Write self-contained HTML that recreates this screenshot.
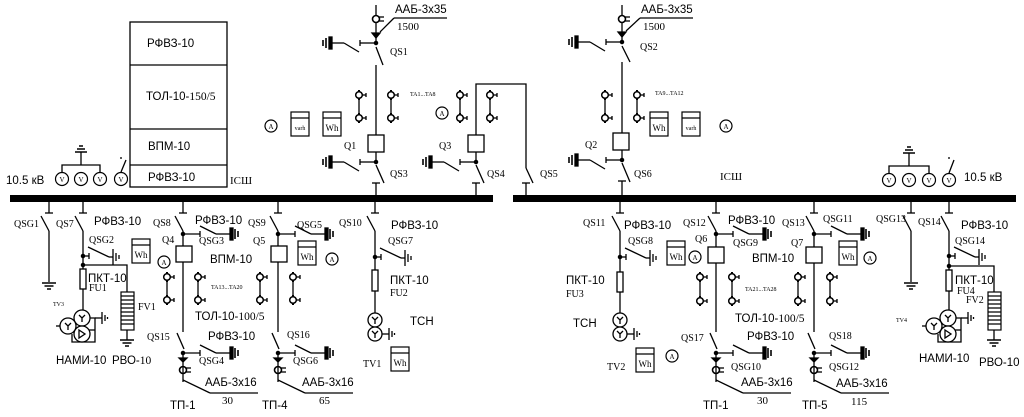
<!DOCTYPE html>
<html><head><meta charset="utf-8"><style>
html,body{margin:0;padding:0;background:#fff;}
svg{display:block;}
.s{font-family:"Liberation Sans",sans-serif;font-size:11.5px;}
.r{font-family:"Liberation Serif",serif;font-size:10px;}
.n{font-family:"Liberation Serif",serif;font-size:11px;}
.t{font-family:"Liberation Serif",serif;font-size:6px;}
</style></head><body>
<svg width="1024" height="417" viewBox="0 0 1024 417" xmlns="http://www.w3.org/2000/svg">
<defs>
<g id="fd" stroke="#000" stroke-width="1.3" fill="none">
<line x1="0" y1="202" x2="0" y2="213"/><line x1="-4" y1="213" x2="4" y2="213"/><line x1="-8" y1="216" x2="0" y2="231"/>
</g>
<g id="esA" stroke="#000" stroke-width="1.3" fill="none">
<circle r="1.6" fill="#000"/><line x1="0" y1="0" x2="17" y2="0"/><line x1="17" y1="-3" x2="17" y2="3"/>
<line x1="17" y1="-8" x2="33" y2="0"/><line x1="33" y1="0" x2="47" y2="0"/>
<rect x="47" y="-6" width="3" height="12" fill="#000"/><line x1="52" y1="-5" x2="52" y2="5" stroke-width="1.6"/><line x1="55" y1="-3" x2="55" y2="3" stroke-width="1.6"/>
</g>
<g id="esL" stroke="#000" stroke-width="1.3" fill="none">
<circle r="1.6" fill="#000"/><line x1="0" y1="0" x2="-16" y2="0"/><line x1="-16" y1="-3" x2="-16" y2="3"/>
<line x1="-17" y1="9" x2="-32" y2="0"/><line x1="-32" y1="0" x2="-44" y2="0"/>
<rect x="-47" y="-6" width="3" height="12" fill="#000"/><line x1="-50" y1="-5" x2="-50" y2="5" stroke-width="1.6"/><line x1="-53" y1="-3" x2="-53" y2="3" stroke-width="1.6"/>
</g>
<g id="esB" stroke="#000" stroke-width="1.3" fill="none">
<circle r="1.6" fill="#000"/><line x1="0" y1="0" x2="6" y2="0"/><line x1="6" y1="-3" x2="6" y2="3"/>
<line x1="5" y1="-9" x2="26" y2="1"/><line x1="26" y1="1" x2="30" y2="1"/>
<line x1="30" y1="-7" x2="30" y2="9"/><line x1="33" y1="-3" x2="33" y2="5"/><line x1="36" y1="-1" x2="36" y2="3"/>
</g>
<g id="ct" stroke="#000" fill="none">
<line x1="0" y1="-5" x2="0" y2="5" stroke-width="2"/><circle r="3.3" stroke-width="1.5" fill="#fff"/><line x1="3" y1="0" x2="7" y2="0" stroke-width="1.3"/><line x1="7" y1="-2" x2="7" y2="2" stroke-width="1.3"/>
</g>
<g id="gv" stroke="#000" stroke-width="1.5"><line x1="-7" y1="0" x2="7" y2="0"/><line x1="-4.5" y1="3" x2="4.5" y2="3"/><line x1="-2" y1="6" x2="2" y2="6"/></g>
<g id="cb" stroke="#000" stroke-width="1.3" fill="none">
<path d="M-4,0 L4,0 L0,4 Z" fill="#000"/><line x1="0" y1="-5" x2="0" y2="24"/>
<circle cy="12" r="3.5" stroke-width="1.6"/><line x1="3" y1="10" x2="8" y2="10"/><line x1="3" y1="14" x2="8" y2="14"/>
<line x1="0" y1="22" x2="27" y2="35"/><line x1="27" y1="35" x2="75" y2="35"/>
</g>
<g id="tr" stroke="#000" stroke-width="1.3" fill="#fff">
<circle r="7"/><circle cy="14" r="7"/>
<path d="M-3,-3 L0,0 L3,-3 M0,0 L0,4 M-3,11 L0,14 L3,11 M0,14 L0,18" fill="none"/>
<line x1="7" y1="14" x2="14" y2="14"/><line x1="14" y1="8" x2="14" y2="20"/><line x1="17" y1="11" x2="17" y2="17"/><line x1="19.5" y1="13" x2="19.5" y2="15"/>
</g>
<g id="nami" stroke="#000" stroke-width="1.3" fill="none">
<path d="M0,0 L13,0 L13,24 L-10,24 L-10,16" /><line x1="0" y1="12" x2="13" y2="12"/>
<circle cx="0" cy="0" r="8" fill="#fff"/><circle cx="0" cy="16" r="8" fill="#fff"/><circle cx="-14" cy="8" r="8" fill="#fff"/>
<line x1="-26" y1="8" x2="-22" y2="8"/>
<path d="M-3,-3 L0,0 L3,-3 M0,0 L0,4 M-17,5 L-14,8 L-11,5 M-14,8 L-14,12 M-3,12 L3,16 L-3,20 Z"/>
<line x1="13" y1="0" x2="20" y2="0"/><line x1="20" y1="-6" x2="20" y2="6"/><line x1="23" y1="-3" x2="23" y2="3"/><line x1="25.5" y1="-1" x2="25.5" y2="1"/>
</g>
<g id="fv" stroke="#000" stroke-width="1.2" fill="#fff">
<rect x="0" y="0" width="13" height="38"/>
<path d="M0,4H13M0,8H13M0,12H13M0,16H13M0,20H13M0,24H13M0,28H13M0,32H13" fill="none"/>
</g>
<g id="vm" stroke="#000" stroke-width="1.2" fill="#fff"><circle r="6.5"/></g>
<g id="am" stroke="#000" stroke-width="1.2" fill="#fff"><circle r="6"/></g>
<g id="box" stroke="#000" stroke-width="1.2" fill="#fff"><rect width="18" height="24"/><line x1="0" y1="6" x2="18" y2="6"/></g>
</defs>

<g stroke="#000" stroke-width="1.3" fill="none">
<rect x="10" y="195" width="483" height="7" fill="#000" stroke="none"/>
<rect x="513" y="195" width="503" height="7" fill="#000" stroke="none"/>
<rect x="130" y="22" width="97" height="165"/>
<line x1="130" y1="65" x2="227" y2="65"/><line x1="130" y1="129" x2="227" y2="129"/><line x1="130" y1="165" x2="227" y2="165"/>
<path d="M62,179 V165 H100 V179 M81,165 V152"/>
<line x1="75" y1="152" x2="87" y2="152" stroke-width="1.5"/><line x1="77" y1="149" x2="85" y2="149" stroke-width="1.5"/><line x1="79" y1="146" x2="83" y2="146" stroke-width="1.5"/>
<line x1="121" y1="172" x2="126" y2="160"/><line x1="121" y1="157" x2="121" y2="159"/>
<path d="M889,180 V166 H929 V180 M909,166 V153"/>
<line x1="903" y1="153" x2="915" y2="153" stroke-width="1.5"/><line x1="905" y1="150" x2="913" y2="150" stroke-width="1.5"/><line x1="907" y1="147" x2="911" y2="147" stroke-width="1.5"/>
<line x1="949" y1="173" x2="954" y2="160"/><line x1="949" y1="157" x2="949" y2="159"/>

<line x1="376" y1="5" x2="376" y2="43"/>
<circle cx="376" cy="19" r="3.5" stroke-width="1.6" fill="#fff"/><line x1="379" y1="17" x2="384" y2="17"/><line x1="379" y1="21" x2="384" y2="21"/>
<path d="M376,38 L380,33 L372,33 Z" fill="#000"/>
<line x1="380" y1="32" x2="394" y2="18"/><line x1="394" y1="18" x2="447" y2="18"/>
<line x1="376" y1="47" x2="383" y2="65"/><line x1="376" y1="65" x2="376" y2="135"/>
<rect x="368" y="135" width="16" height="17"/><line x1="376" y1="152" x2="376" y2="162"/>
<line x1="376" y1="165" x2="384" y2="183"/><line x1="376" y1="183" x2="376" y2="195"/><line x1="372" y1="183" x2="380" y2="183"/>
<line x1="359" y1="90" x2="359" y2="122"/><line x1="391" y1="90" x2="391" y2="122"/>
<path d="M476,135 V84 H526 V168"/>
<rect x="468" y="135" width="16" height="17"/><line x1="476" y1="152" x2="476" y2="162"/>
<line x1="476" y1="165" x2="484" y2="183"/><line x1="476" y1="183" x2="476" y2="195"/><line x1="472" y1="183" x2="480" y2="183"/>
<line x1="526" y1="168" x2="533" y2="183"/><line x1="526" y1="183" x2="526" y2="195"/><line x1="522" y1="183" x2="530" y2="183"/>
<line x1="460" y1="90" x2="460" y2="122"/><line x1="490" y1="90" x2="490" y2="122"/>
<line x1="622" y1="5" x2="622" y2="42"/>
<circle cx="622" cy="19" r="3.5" stroke-width="1.6" fill="#fff"/><line x1="625" y1="17" x2="630" y2="17"/><line x1="625" y1="21" x2="630" y2="21"/>
<path d="M622,37 L626,32 L618,32 Z" fill="#000"/>
<line x1="626" y1="31" x2="640" y2="18"/><line x1="640" y1="18" x2="693" y2="18"/>
<line x1="622" y1="46" x2="630" y2="62"/><line x1="622" y1="62" x2="622" y2="133"/>
<rect x="613" y="133" width="16" height="17"/><line x1="622" y1="150" x2="622" y2="160"/>
<line x1="622" y1="163" x2="630" y2="182"/><line x1="622" y1="181" x2="622" y2="195"/><line x1="618" y1="181" x2="626" y2="181"/>
<line x1="605" y1="90" x2="605" y2="122"/><line x1="637" y1="90" x2="637" y2="122"/>

<use href="#fd" x="49"/><line x1="49" y1="231" x2="49" y2="282"/><use href="#gv" x="49" y="283"/>
<use href="#fd" x="83"/><line x1="83" y1="231" x2="83" y2="310"/>
<path d="M83,265 H127 V292"/><circle cx="83" cy="265" r="1.6" fill="#000"/>
<rect x="80" y="269" width="6" height="20" fill="#fff"/>
<line x1="127" y1="330" x2="127" y2="340"/><use href="#gv" x="127" y="340"/>
<use href="#fd" x="183"/><line x1="183" y1="231" x2="183" y2="332"/>
<rect x="176" y="246" width="16" height="16" fill="#fff"/>
<line x1="167" y1="272" x2="167" y2="305"/><line x1="198" y1="272" x2="198" y2="305"/>
<line x1="177" y1="333" x2="184" y2="349"/>
<use href="#fd" x="278"/><line x1="278" y1="231" x2="278" y2="332"/>
<rect x="271" y="246" width="16" height="16" fill="#fff"/>
<line x1="260" y1="272" x2="260" y2="305"/><line x1="293" y1="272" x2="293" y2="305"/>
<line x1="272" y1="333" x2="279" y2="349"/>
<use href="#fd" x="375"/><line x1="375" y1="231" x2="375" y2="313"/>
<rect x="372" y="270" width="6" height="21" fill="#fff"/>

<use href="#fd" x="620"/><line x1="620" y1="231" x2="620" y2="313"/>
<rect x="617" y="272" width="6" height="20" fill="#fff"/>
<use href="#fd" x="716"/><line x1="716" y1="231" x2="716" y2="332"/>
<rect x="708" y="247" width="16" height="16" fill="#fff"/>
<line x1="700" y1="272" x2="700" y2="305"/><line x1="732" y1="272" x2="732" y2="305"/>
<line x1="710" y1="333" x2="717" y2="349"/>
<use href="#fd" x="814"/><line x1="814" y1="231" x2="814" y2="332"/>
<rect x="806" y="247" width="16" height="16" fill="#fff"/>
<line x1="798" y1="272" x2="798" y2="305"/><line x1="830" y1="272" x2="830" y2="305"/>
<line x1="808" y1="333" x2="815" y2="349"/>
<use href="#fd" x="911"/><line x1="911" y1="231" x2="911" y2="282"/><use href="#gv" x="911" y="283"/>
<use href="#fd" x="949"/><line x1="949" y1="231" x2="949" y2="310"/>
<path d="M949,266 H994 V292"/><circle cx="949" cy="266" r="1.6" fill="#000"/>
<rect x="946" y="270" width="6" height="21" fill="#fff"/>
<line x1="994" y1="330" x2="994" y2="340"/><use href="#gv" x="994" y="340"/>
</g>

<use href="#esL" x="376" y="43"/><use href="#esL" x="376" y="162"/><use href="#esL" x="476" y="162"/>
<use href="#esL" x="622" y="42"/><use href="#esL" x="622" y="160"/>
<use href="#esB" x="83" y="256"/><use href="#esB" x="375" y="257"/><use href="#esB" x="620" y="257"/><use href="#esB" x="949" y="256"/>
<use href="#esA" x="183" y="234"/><use href="#esA" x="278" y="234"/><use href="#esA" x="716" y="234"/><use href="#esA" x="814" y="234"/>
<use href="#esA" x="183" y="353"/><use href="#esA" x="278" y="353"/><use href="#esA" x="716" y="353"/><use href="#esA" x="814" y="353"/>
<use href="#cb" x="183" y="358"/><use href="#cb" x="278" y="358"/><use href="#cb" x="716" y="358"/><use href="#cb" x="814" y="358"/>
<use href="#ct" x="359" y="95"/><use href="#ct" x="359" y="118"/><use href="#ct" x="391" y="95"/><use href="#ct" x="391" y="118"/>
<use href="#ct" x="460" y="95"/><use href="#ct" x="460" y="118"/><use href="#ct" x="490" y="95"/><use href="#ct" x="490" y="118"/>
<use href="#ct" x="605" y="95"/><use href="#ct" x="605" y="118"/><use href="#ct" x="637" y="95"/><use href="#ct" x="637" y="118"/>
<use href="#ct" x="167" y="277"/><use href="#ct" x="167" y="300"/><use href="#ct" x="198" y="277"/><use href="#ct" x="198" y="300"/>
<use href="#ct" x="260" y="277"/><use href="#ct" x="260" y="300"/><use href="#ct" x="293" y="277"/><use href="#ct" x="293" y="300"/>
<use href="#ct" x="700" y="277"/><use href="#ct" x="700" y="301"/><use href="#ct" x="732" y="277"/><use href="#ct" x="732" y="301"/>
<use href="#ct" x="798" y="277"/><use href="#ct" x="798" y="301"/><use href="#ct" x="830" y="277"/><use href="#ct" x="830" y="301"/>
<use href="#tr" x="375" y="320"/><use href="#tr" x="620" y="320"/>
<use href="#nami" x="82" y="318"/><use href="#nami" x="948" y="318"/>
<use href="#fv" x="121" y="292"/><use href="#fv" x="988" y="292"/>
<use href="#vm" x="62" y="179"/><use href="#vm" x="81" y="179"/><use href="#vm" x="100" y="179"/><use href="#vm" x="121" y="179"/>
<use href="#vm" x="889" y="180"/><use href="#vm" x="909" y="180"/><use href="#vm" x="929" y="180"/><use href="#vm" x="949" y="180"/>
<use href="#am" x="271" y="126"/><use href="#am" x="442" y="113"/><use href="#am" x="726" y="126"/>
<use href="#am" x="164" y="262"/><use href="#am" x="332" y="259"/><use href="#am" x="695" y="257"/><use href="#am" x="870" y="258"/><use href="#am" x="672" y="356"/>
<use href="#box" x="291" y="112"/><use href="#box" x="323" y="112"/><use href="#box" x="650" y="112"/><use href="#box" x="682" y="112"/>
<use href="#box" x="132" y="239"/><use href="#box" x="298" y="241"/><use href="#box" x="391" y="347"/>
<use href="#box" x="636" y="348"/><use href="#box" x="667" y="241"/><use href="#box" x="839" y="241"/>

<g font-family="Liberation Serif,serif" font-size="7" text-anchor="middle">
<text x="62" y="182">V</text><text x="81" y="182">V</text><text x="100" y="182">V</text><text x="121" y="182">V</text>
<text x="889" y="183">V</text><text x="909" y="183">V</text><text x="929" y="183">V</text><text x="949" y="183">V</text>
<text x="271" y="129">A</text><text x="442" y="116">A</text><text x="726" y="129">A</text><text x="164" y="265">A</text><text x="332" y="262">A</text><text x="695" y="260">A</text><text x="870" y="261">A</text><text x="672" y="359">A</text>
</g>
<g font-family="Liberation Serif,serif" font-size="9" text-anchor="middle">
<text x="332" y="131">Wh</text><text x="659" y="131">Wh</text><text x="141" y="258">Wh</text><text x="307" y="260">Wh</text><text x="400" y="366">Wh</text><text x="645" y="367">Wh</text><text x="676" y="260">Wh</text><text x="848" y="260">Wh</text>
<text x="300" y="130" font-size="6">varh</text><text x="691" y="130" font-size="6">varh</text>
</g>

<g class="s">
<text x="147" y="47">РФВЗ-10</text>
<text x="146" y="100">ТОЛ-10-<tspan font-family="Liberation Serif,serif">150/5</tspan></text>
<text x="148" y="150">ВПМ-10</text>
<text x="148" y="181">РФВЗ-10</text>
<text x="6" y="184">10.5 кВ</text>
<text x="964" y="181">10.5 кВ</text>
<text x="395" y="13">ААБ-3х35</text><text x="641" y="13">ААБ-3х35</text>
<text x="94" y="225">РФВЗ-10</text><text x="195" y="224">РФВЗ-10</text><text x="391" y="229">РФВЗ-10</text>
<text x="210" y="263">ВПМ-10</text>
<text x="88" y="282">ПКТ-10</text><text x="390" y="284">ПКТ-10</text>
<text x="410" y="325">ТСН</text>
<text x="195" y="320">ТОЛ-10-<tspan font-family="Liberation Serif,serif">100/5</tspan></text>
<text x="208" y="340">РФВЗ-10</text>
<text x="205" y="386">ААБ-3х16</text><text x="302" y="386">ААБ-3х16</text>
<text x="170" y="409">ТП-1</text><text x="262" y="409">ТП-4</text>
<text x="56" y="364">НАМИ-10</text><text x="112" y="364">РВО-<tspan font-family="Liberation Serif,serif">10</tspan></text>
<text x="624" y="229">РФВЗ-10</text><text x="728" y="224">РФВЗ-10</text><text x="961" y="229">РФВЗ-10</text>
<text x="752" y="262">ВПМ-10</text>
<text x="566" y="284">ПКТ-10</text><text x="955" y="284">ПКТ-10</text>
<text x="573" y="327">ТСН</text>
<text x="735" y="322">ТОЛ-10-<tspan font-family="Liberation Serif,serif">100/5</tspan></text>
<text x="747" y="340">РФВЗ-10</text>
<text x="741" y="386">ААБ-3х16</text><text x="836" y="387">ААБ-3х16</text>
<text x="703" y="409">ТП-1</text><text x="802" y="409">ТП-5</text>
<text x="919" y="362">НАМИ-10</text><text x="979" y="366">РВО-10</text>
</g>
<g class="n">
<text x="397" y="30">1500</text><text x="643" y="30">1500</text>
<text x="222" y="404">30</text><text x="319" y="404">65</text>
<text x="757" y="404">30</text><text x="851" y="405">115</text>
</g>
<g class="r">
<text x="390" y="55">QS1</text><text x="344" y="149">Q1</text><text x="390" y="177">QS3</text>
<text x="439" y="149">Q3</text><text x="487" y="177">QS4</text><text x="540" y="177">QS5</text>
<text x="640" y="50">QS2</text><text x="585" y="148">Q2</text><text x="634" y="177">QS6</text>
<text x="230" y="184" font-size="11">IСШ</text><text x="720" y="180" font-size="11">IСШ</text>
<text x="14" y="227">QSG1</text><text x="56" y="227">QS7</text><text x="89" y="243">QSG2</text>
<text x="89" y="291">FU1</text><text x="138" y="310">FV1</text>
<text x="153" y="226">QS8</text><text x="162" y="243">Q4</text><text x="199" y="244">QSG3</text>
<text x="248" y="226">QS9</text><text x="253" y="244">Q5</text><text x="297" y="228">QSG5</text>
<text x="339" y="226">QS10</text><text x="388" y="244">QSG7</text><text x="390" y="296">FU2</text><text x="363" y="367">TV1</text>
<text x="147" y="340">QS15</text><text x="287" y="338">QS16</text>
<text x="199" y="364">QSG4</text><text x="293" y="364">QSG6</text>
<text x="583" y="226">QS11</text><text x="628" y="244">QSG8</text><text x="566" y="297">FU3</text><text x="607" y="370">TV2</text>
<text x="683" y="226">QS12</text><text x="695" y="242">Q6</text><text x="733" y="246">QSG9</text>
<text x="782" y="226">QS13</text><text x="791" y="246">Q7</text><text x="823" y="222">QSG11</text>
<text x="681" y="341">QS17</text><text x="829" y="339">QS18</text>
<text x="731" y="370">QSG10</text><text x="829" y="370">QSG12</text>
<text x="876" y="222">QSG13</text><text x="918" y="225">QS14</text><text x="955" y="244">QSG14</text>
<text x="957" y="294">FU4</text><text x="966" y="303">FV2</text>
</g>
<g class="t">
<text x="410" y="96">TA1...TA8</text><text x="655" y="95">TA9...TA12</text>
<text x="211" y="289">TA13...TA20</text><text x="745" y="291">TA21...TA28</text>
<text x="53" y="306">TV3</text><text x="896" y="322">TV4</text>
</g>
</svg>
</body></html>
